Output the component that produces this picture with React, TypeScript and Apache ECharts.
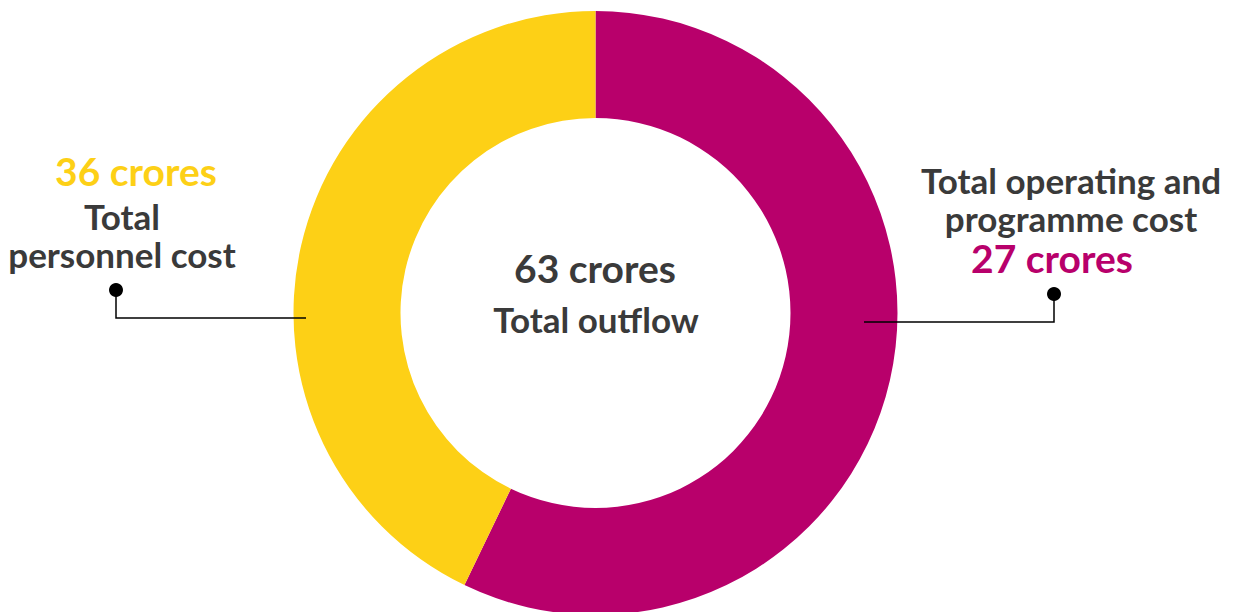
import React, { useEffect, useRef } from "react";
import * as echarts from "echarts";

const categories = ["Total operating and programme cost", "Total personnel cost"];
const sliceValues = [36, 27];
const labelAmounts = [27, 36];
const totalOutflow = 63;
const unit = "crores";
const colors = ["#B8006B", "#FDD016"];

const FONT = "Lato, 'Open Sans', sans-serif";
const DARK = "#3A3A3A";
const BIG = 39;
const MID = 35;

export default function App() {
  const ref = useRef<HTMLDivElement>(null);
  useEffect(() => {
    if (!ref.current) return;
    const chart = echarts.init(ref.current, undefined, { renderer: "svg" });
    const txt = (
      x: number,
      y: number,
      text: string,
      fill: string,
      size: number,
      lineHeight?: number
    ) => ({
      type: "text",
      x,
      y,
      style: {
        text,
        fill,
        font: `bold ${size}px ${FONT}`,
        align: "center",
        verticalAlign: "middle",
        lineHeight: lineHeight ?? size,
      },
    });
    const line = (pts: number[][]) => ({
      type: "polyline",
      shape: { points: pts },
      style: { stroke: "#000", lineWidth: 1.5, fill: "none" },
      z: 10,
    });
    const dot = (x: number, y: number) => ({
      type: "circle",
      shape: { cx: x, cy: y, r: 7 },
      style: { fill: "#000" },
      z: 10,
    });
    chart.setOption({
      animation: false,
      backgroundColor: "#fff",
      series: [
        {
          type: "pie",
          center: [595.5, 313],
          radius: [195, 302],
          startAngle: 90,
          clockwise: true,
          silent: true,
          label: { show: false },
          labelLine: { show: false },
          itemStyle: { borderWidth: 0 },
          data: categories.map((name, i) => ({
            name,
            value: sliceValues[i],
            itemStyle: { color: colors[i] },
          })),
        },
      ],
      graphic: [
        txt(595, 268, `${totalOutflow} ${unit}`, DARK, BIG),
        txt(596, 318.5, "Total outflow", DARK, MID),
        txt(136, 170.5, `${labelAmounts[1]} ${unit}`, colors[1], BIG),
        txt(122, 234.5, "Total\npersonnel cost", DARK, MID, 38),
        txt(1071, 198.5, "Total operating and\nprogramme cost", DARK, MID, 38),
        txt(1052, 258, `${labelAmounts[0]} ${unit}`, colors[0], BIG),
        line([[116, 290], [116, 318], [306, 318]]),
        dot(116, 290),
        line([[1054, 294], [1054, 322], [864, 322]]),
        dot(1054, 294),
      ],
    });
    return () => chart.dispose();
  }, []);
  return (
    <div
      ref={ref}
      style={{ position: "fixed", left: 0, top: 0, width: 1238, height: 612 }}
    />
  );
}
